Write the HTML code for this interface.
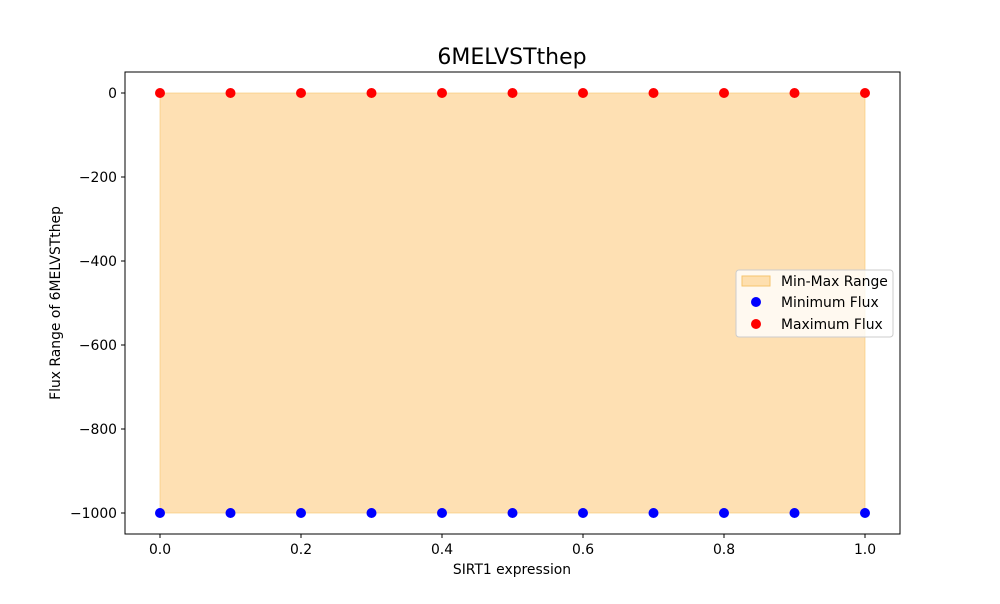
<!DOCTYPE html>
<html><head><meta charset="utf-8"><style>
body{margin:0;background:#fff;font-family:"DejaVu Sans","Liberation Sans",sans-serif}
</style></head><body>
<svg id="chart" width="1000" height="600" xmlns="http://www.w3.org/2000/svg" font-family="DejaVu Sans, Liberation Sans, sans-serif">
<rect width="1000" height="600" fill="#fff"/>
<text x="512" y="64" font-size="22" text-anchor="middle">6MELVSTthep</text>
<g id="plot"></g>
<rect x="125" y="72" width="775" height="462" fill="none" stroke="#000" stroke-width="1"/>
<text x="512" y="574" font-size="13.9" text-anchor="middle">SIRT1 expression</text>
<text transform="translate(60,303) rotate(-90)" font-size="13.9" text-anchor="middle">Flux Range of 6MELVSTthep</text>
<g>
<rect x="736" y="270" width="157" height="67" rx="3" fill="#fff" fill-opacity="0.8" stroke="#ccc"/>
<rect x="742" y="276" width="28" height="10" fill="#fdd699" fill-opacity="0.75" stroke="#f5c46e"/>
<text x="781" y="286" font-size="13.9">Min-Max Range</text>
<circle cx="756" cy="302" r="5" fill="#0000ff"/>
<text x="781" y="307" font-size="13.9">Minimum Flux</text>
<circle cx="756" cy="324" r="5" fill="#ff0000"/>
<text x="781" y="329" font-size="13.9">Maximum Flux</text>
</g>
</svg>
<script>
const xs=[0,0.1,0.2,0.3,0.4,0.5,0.6,0.7,0.8,0.9,1.0];
const minFlux=[-1000,-1000,-1000,-1000,-1000,-1000,-1000,-1000,-1000,-1000,-1000];
const maxFlux=[0,0,0,0,0,0,0,0,0,0,0];
const xTicks=[0,0.2,0.4,0.6,0.8,1.0];
const xTickLabels=["0.0","0.2","0.4","0.6","0.8","1.0"];
const yTicks=[0,-200,-400,-600,-800,-1000];
const yTickLabels=["0","\u2212200","\u2212400","\u2212600","\u2212800","\u22121000"];
const X=v=>160+v*705;
const Y=v=>93+(-v)*0.42;
const ns="http://www.w3.org/2000/svg";
const g=document.getElementById('plot');
function mk(t,a){const e=document.createElementNS(ns,t);for(const k in a)e.setAttribute(k,a[k]);g.appendChild(e);return e;}
let d="M"+xs.map((x,i)=>X(x)+","+Y(maxFlux[i])).join(" L");
for(let i=xs.length-1;i>=0;i--)d+=" L"+X(xs[i])+","+Y(minFlux[i]);
const area=mk('path',{d:d+"Z",fill:"#fdd699","fill-opacity":"0.75",stroke:"#f5c46e","stroke-opacity":"0.6"});


xTicks.forEach((t,i)=>{
 const l=mk('line',{x1:X(t),x2:X(t),y1:534,y2:538,stroke:"#000"});
 
 
 const tx=mk('text',{x:X(t),y:554,"font-size":"13.9","text-anchor":"middle"});tx.textContent=xTickLabels[i];
 
 
});
yTicks.forEach((t,i)=>{
 const l=mk('line',{x1:121,x2:125,y1:Y(t),y2:Y(t),stroke:"#000"});
 
 
 const tx=mk('text',{x:117,y:Y(t)+5,"font-size":"13.9","text-anchor":"end"});tx.textContent=yTickLabels[i];
 
 
});
xs.forEach((x,i)=>{
 const a=mk('circle',{cx:X(x),cy:Y(minFlux[i]),r:5,fill:"#0000ff"});
 
 
 const b=mk('circle',{cx:X(x),cy:Y(maxFlux[i]),r:5,fill:"#ff0000"});
 
 
});
</script>
</body></html>
